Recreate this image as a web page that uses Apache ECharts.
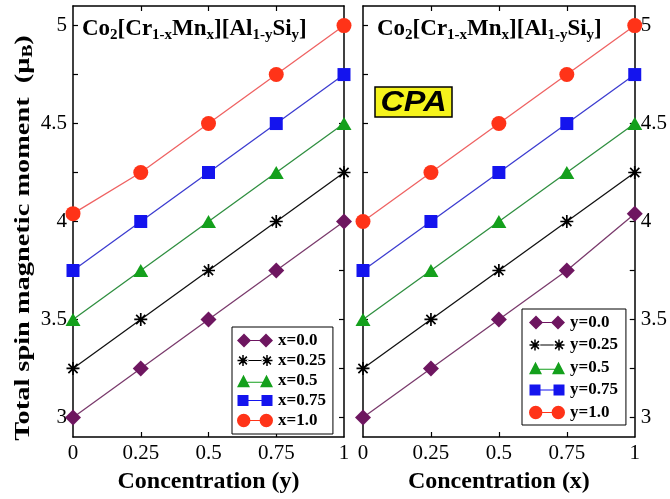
<!DOCTYPE html>
<html>
<head>
<meta charset="utf-8">
<script src="https://cdn.jsdelivr.net/npm/echarts@6/dist/echarts.min.js"></script>
<style>html,body{margin:0;padding:0;background:#fff;}#c{width:670px;height:499px;}</style>
</head>
<body>
<div id="c"></div>
<script>
// ---- data ----
const concentration = [0, 0.25, 0.5, 0.75, 1];
const xTickValues = [0, 0.25, 0.5, 0.75, 1];
const xInnerTicks = [0.25, 0.5, 0.75];
const yTickValues = [3, 3.25, 3.5, 3.75, 4, 4.25, 4.5, 4.75, 5];
const yLabelValues = [3, 3.5, 4, 4.5, 5];

// left panel: x-axis is concentration y, series are fixed x
const leftNames = ['x=0.0', 'x=0.25', 'x=0.5', 'x=0.75', 'x=1.0'];
const left_x000 = [3.00, 3.25, 3.50, 3.75, 4.00];
const left_x025 = [3.25, 3.50, 3.75, 4.00, 4.25];
const left_x050 = [3.50, 3.75, 4.00, 4.25, 4.50];
const left_x075 = [3.75, 4.00, 4.25, 4.50, 4.75];
const left_x100 = [4.04, 4.25, 4.50, 4.75, 5.00];

// right panel: x-axis is concentration x, series are fixed y
const rightNames = ['y=0.0', 'y=0.25', 'y=0.5', 'y=0.75', 'y=1.0'];
const right_y000 = [3.00, 3.25, 3.50, 3.75, 4.04];
const right_y025 = [3.25, 3.50, 3.75, 4.00, 4.25];
const right_y050 = [3.50, 3.75, 4.00, 4.25, 4.50];
const right_y075 = [3.75, 4.00, 4.25, 4.50, 4.75];
const right_y100 = [4.00, 4.25, 4.50, 4.75, 5.00];

// ---- styles ----
const FONT = '"Liberation Serif", "Times New Roman", serif';
const SANS = '"Liberation Sans", Arial, sans-serif';

function asteriskPath(cx, cy, r, w, n) {
  let d = '';
  for (let k = 0; k < n; k++) {
    const a = k * Math.PI / n;
    const ux = Math.cos(a), uy = Math.sin(a);
    const px = -uy * w, py = ux * w;
    const p = [
      [cx + ux * r + px, cy + uy * r + py],
      [cx + ux * r - px, cy + uy * r - py],
      [cx - ux * r - px, cy - uy * r - py],
      [cx - ux * r + px, cy - uy * r + py]
    ].map(q => q[0].toFixed(2) + ',' + q[1].toFixed(2));
    d += 'M' + p[0] + 'L' + p[1] + 'L' + p[2] + 'L' + p[3] + 'Z';
  }
  return d;
}
function bar(x1, x2, y, h) {
  return 'M' + x1 + ',' + (y - h) + 'L' + x2 + ',' + (y - h) + 'L' + x2 + ',' + (y + h) + 'L' + x1 + ',' + (y + h) + 'Z';
}

// legend icon paths are designed in a 36 x 14 box
const styles = [
  { symbol: 'diamond', size: [16, 16], color: '#6e1660', line: '#7a3a6c',
    icon: 'path://M0,7L7,0L14,7L7,14Z M22,7L29,0L36,7L29,14Z ' + bar(12, 24, 7, 0.6) },
  { symbol: 'path://' + asteriskPath(10, 10, 10, 1.3, 4), size: [13, 13], color: '#000000', line: '#111111',
    icon: 'path://' + bar(0, 36, 1, 0.01) + bar(0, 36, 13, 0.01) + asteriskPath(6, 7, 5.5, 0.75, 4) + asteriskPath(30, 7, 5.5, 0.75, 4) + bar(10, 26, 7, 0.6) },
  { symbol: 'triangle', size: [15, 13], color: '#14a01c', line: '#2f8f40',
    icon: 'path://M0,13.5L6.5,1L13,13.5Z M23,13.5L29.5,1L36,13.5Z ' + bar(10, 26, 8.5, 0.6) + bar(0, 36, 0.01, 0.01) },
  { symbol: 'rect', size: [13, 13], color: '#1414ee', line: '#3c3cd0',
    icon: 'path://M0.5,1.5L11.5,1.5L11.5,12.5L0.5,12.5Z M24.5,1.5L35.5,1.5L35.5,12.5L24.5,12.5Z ' + bar(11, 25, 7, 0.6) + bar(0, 36, 0.01, 0.01) + bar(0, 36, 13.99, 0.01) },
  { symbol: 'circle', size: [15, 15], color: '#ff3318', line: '#ef6262',
    icon: 'path://M0,7A6.7,6.7 0 1 1 13.4,7A6.7,6.7 0 1 1 0,7Z M22.6,7A6.7,6.7 0 1 1 36,7A6.7,6.7 0 1 1 22.6,7Z ' + bar(12, 24, 7, 0.6) + bar(0, 36, 0.01, 0.01) + bar(0, 36, 13.99, 0.01) }
];

const leftData = [left_x000, left_x025, left_x050, left_x075, left_x100];
const rightData = [right_y000, right_y025, right_y050, right_y075, right_y100];

function makeSeries(names, dataSets, axisIdx) {
  return names.map((n, i) => ({
    name: n, type: 'line', xAxisIndex: axisIdx, yAxisIndex: axisIdx,
    data: concentration.map((c, j) => [c, dataSets[i][j]]),
    symbol: styles[i].symbol, symbolSize: styles[i].size,
    itemStyle: { color: styles[i].color, borderWidth: 0 },
    lineStyle: { color: styles[i].line, width: 1.3 },
    clip: false, z: 3 + i
  }));
}

const axisLine = { show: true, onZero: false, lineStyle: { color: '#000', width: 1.5 } };
const tickStyle = { color: '#000', width: 1.2 };

function xAxes(grid, name) {
  return [
    { type: 'value', gridIndex: grid, min: 0, max: 1, position: 'bottom',
      name: name, nameLocation: 'middle', nameGap: 33,
      nameTextStyle: { fontFamily: FONT, fontWeight: 'bold', fontSize: 24, color: '#000' },
      axisLine: axisLine,
      axisTick: { show: true, inside: true, length: 5, customValues: xInnerTicks, lineStyle: tickStyle },
      axisLabel: { show: true, customValues: xTickValues, formatter: v => String(v), margin: 6,
        fontFamily: FONT, fontSize: 21, color: '#000' },
      splitLine: { show: false } },
    { type: 'value', gridIndex: grid, min: 0, max: 1, position: 'top',
      axisLine: axisLine,
      axisTick: { show: true, inside: true, length: 5, customValues: xInnerTicks, lineStyle: tickStyle },
      axisLabel: { show: false }, splitLine: { show: false } }
  ];
}
function yAxes(grid, labelSide) {
  const mk = (pos, withLabels) => ({
    type: 'value', gridIndex: grid, min: 2.9, max: 5.1, position: pos,
    axisLine: axisLine,
    axisTick: { show: true, inside: true, length: 5, customValues: yTickValues, lineStyle: tickStyle },
    axisLabel: { show: withLabels, customValues: yLabelValues, formatter: v => String(v), margin: 6,
      fontFamily: FONT, fontSize: 21, color: '#000' },
    splitLine: { show: false }
  });
  return [mk('left', labelSide === 'left'), mk('right', labelSide === 'right')];
}

const xa = xAxes(0, 'Concentration (y)').concat(xAxes(1, 'Concentration (x)'));
const ya = yAxes(0, 'left').concat(yAxes(1, 'right'));
// series use axes 0 (left panel) and 2 (right panel)
const series = makeSeries(leftNames, leftData, 0).concat(makeSeries(rightNames, rightData, 2));

function legendCfg(names, left, top, gap, lh, pad) {
  return {
    orient: 'vertical', left: left, top: top, selectedMode: false,
    data: names.map((n, i) => ({ name: n, icon: styles[i].icon })),
    itemWidth: 36, itemHeight: 14, itemGap: gap, symbolKeepAspect: true,
    padding: pad, borderColor: '#000', borderWidth: 1, backgroundColor: '#fff',
    itemStyle: { borderWidth: 0 },
    textStyle: { fontFamily: FONT, fontWeight: 'bold', fontSize: 17, color: '#000', lineHeight: lh },
    z: 10
  };
}

const titleRich = {
  b: { fontFamily: FONT, fontWeight: 'bold', fontSize: 23, lineHeight: 26, fill: '#000' },
  s: { fontFamily: FONT, fontWeight: 'bold', fontSize: 15, lineHeight: 16, padding: [13, 0, 0, 0], fill: '#000' }
};
const titleText = '{b|Co}{s|2}{b|[Cr}{s|1-x}{b|Mn}{s|x}{b|][Al}{s|1-y}{b|Si}{s|y}{b|]}';

const option = {
  animation: false,
  backgroundColor: '#fff',
  grid: [
    { left: 73, top: 6, width: 271, height: 431 },
    { left: 363, top: 6, width: 272, height: 431 }
  ],
  xAxis: xa,
  yAxis: ya,
  legend: [
    legendCfg(leftNames, 232, 327, 3, 16, [5, 7, 5, 5]),
    legendCfg(rightNames, 522, 309, 5.5, 17, [5, 8, 4, 7])
  ],
  series: series,
  graphic: [
    { type: 'text', left: 82, top: 15, z: 20, style: { text: titleText, rich: titleRich } },
    { type: 'text', left: 377, top: 15, z: 20, style: { text: titleText, rich: titleRich } },
    { type: 'rect', shape: { x: 375, y: 87, width: 77, height: 30 }, z: 20,
      style: { fill: '#f5f31c', stroke: '#000', lineWidth: 1.5 } },
    { type: 'text', x: 413.5, y: 103, scaleX: 1.12, z: 21,
      style: { text: 'CPA', fontFamily: SANS, fontStyle: 'italic', fontWeight: 'bold', fontSize: 29,
        fill: '#000', align: 'center', verticalAlign: 'middle' } },
    { type: 'text', x: 23, y: 238, rotation: Math.PI / 2, scaleX: 1.29, z: 20,
      style: { text: '{b|Total spin magnetic moment  (μ}{s|B}{b|)}', align: 'center', verticalAlign: 'middle',
        rich: {
          b: { fontFamily: FONT, fontWeight: 'bold', fontSize: 22, lineHeight: 24, fill: '#000' },
          s: { fontFamily: FONT, fontWeight: 'bold', fontSize: 15, lineHeight: 14, padding: [10, 0, 0, 0], fill: '#000' }
        } } }
  ]
};

const chart = echarts.init(document.getElementById('c'), null, { renderer: 'canvas' });
chart.setOption(option);
</script>
</body>
</html>
